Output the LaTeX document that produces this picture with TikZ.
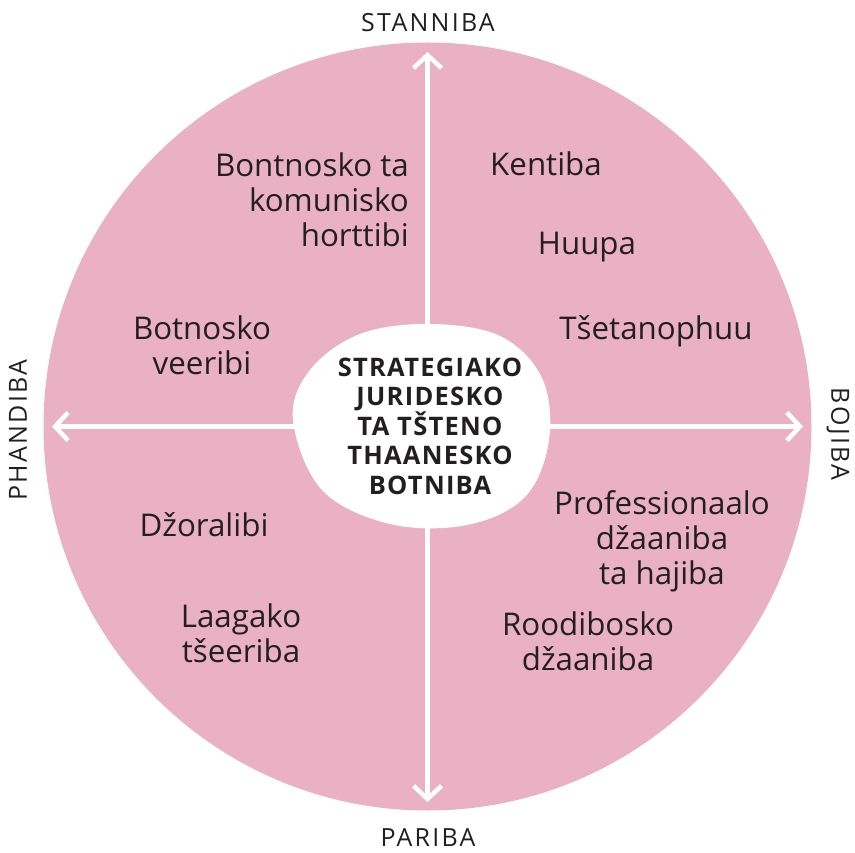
\documentclass[tikz,border=0pt]{standalone}
\usepackage{fontspec}
\setmainfont{Open Sans}
\usetikzlibrary{arrows.meta}
\definecolor{petal}{RGB}{233,177,195}
\definecolor{ink}{RGB}{35,31,32}

\begin{document}
\begin{tikzpicture}[
  x=1pt, y=-1pt,
  item/.style={text=ink, font=\fontsize{31.3}{35}\selectfont, inner sep=0pt, align=center},
  axlbl/.style={text=ink, font=\fontsize{25}{28}\selectfont\addfontfeature{LetterSpace=9}, inner sep=0pt},
  hub/.style={text=ink, font=\fontsize{25.5}{29.5}\selectfont\bfseries\addfontfeature{LetterSpace=5}, align=center, inner sep=0pt},
  arr/.style={draw=white, line width=4.5pt, -{Straight Barb[length=13pt,width=28pt]}},
]
  \useasboundingbox (0,0) rectangle (855,853);
  \fill[petal] (427.5,426.5) circle[radius=384pt];

  % axes
  \coordinate (c) at (427.5,426.5);
  \coordinate (up) at (427.5,52);
  \coordinate (down) at (427.5,802);
  \coordinate (lt) at (52,426.5);
  \coordinate (rt) at (803,426.5);
  \draw[arr] (c) -- (up);
  \draw[arr] (c) -- (down);
  \draw[arr] (c) -- (lt);
  \draw[arr] (c) -- (rt);

  % centre blob
  \fill[white] plot[smooth cycle, tension=0.6] coordinates {
    (293,420) (310,370) (360,334) (430,324) (500,336) (542,378)
    (549,440) (525,497) (467,525) (390,524) (322,490)};
  \node[hub] (core) at (430,426) {STRATEGIAKO\\JURIDESKO\\TA TŠTENO\\THAANESKO\\BOTNIBA};

  % axis labels
  \node[axlbl] (stanniba) at (428,23) {STANNIBA};
  \node[axlbl] (pariba) at (428,838) {PARIBA};
  \node[axlbl, rotate=90] (phandiba) at (18,430) {PHANDIBA};
  \node[axlbl, rotate=-90] (bojiba) at (838,434) {BOJIBA};

  % quadrant items
  \node[item, align=right, anchor=east] (bontnosko) at (409,200) {Bontnosko ta\\komunisko\\horttibi};
  \node[item, anchor=base] (kentiba) at (546,176) {Kentiba};
  \node[item, anchor=base] (huupa) at (587,255) {Huupa};
  \node[item, anchor=base] (tsetano) at (656,340) {Tšetanophuu};
  \node[item] (botnosko) at (202,345) {Botnosko\\veeribi};
  \node[item, anchor=base] (dzoralibi) at (204,536) {Džoralibi};
  \node[item] (laagako) at (241,633) {Laagako\\tšeeriba};
  \node[item] (prof) at (662,541) {Professionaalo\\džaaniba\\ta hajiba};
  \node[item] (roodibosko) at (588,641) {Roodibosko\\džaaniba};
\end{tikzpicture}
\end{document}
